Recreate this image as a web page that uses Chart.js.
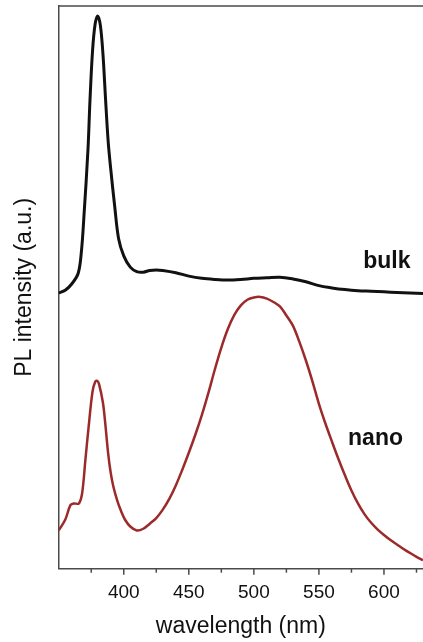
<!DOCTYPE html>
<html>
<head>
<meta charset="utf-8">
<script src="https://cdn.jsdelivr.net/npm/chart.js@4.4.1/dist/chart.umd.min.js"></script>
<style>
  html, body { margin: 0; padding: 0; background: #fff; }
  #wrap { width: 423px; height: 642px; position: relative; }
</style>
</head>
<body>
<div id="wrap"><canvas id="plChart"></canvas></div>
<script>
// values (wavelength in nm, intensity in arbitrary units 0-100)
const bulkWavelength = [350, 355, 360, 365, 367.5, 369.5, 372.5, 374, 376, 378, 380, 382, 384, 386, 388, 390, 393, 396, 400, 405, 410, 415, 420, 425, 430, 440, 450, 460, 470, 480, 490, 500, 510, 520, 530, 540, 550, 560, 570, 580, 590, 600, 610, 620, 630];
const bulkIntensity = [49.0, 49.5, 50.6, 52.5, 56.5, 63, 74.5, 83, 92, 96.8, 98.2, 96.6, 91.5, 83.5, 76, 71, 64.5, 58.7, 55.6, 53.6, 52.8, 52.7, 53.0, 53.1, 53.0, 52.6, 52.0, 51.6, 51.4, 51.3, 51.4, 51.6, 51.7, 51.8, 51.5, 51.0, 50.3, 49.9, 49.6, 49.4, 49.3, 49.2, 49.1, 49.0, 48.9];

const nanoWavelength = [350, 355, 359, 361.5, 365.5, 368, 370.5, 373, 376, 378, 379.6, 381, 384, 386, 388, 390, 392, 395, 398, 401, 405, 410, 415, 420, 425, 430, 435, 440, 445, 450, 455, 460, 465, 470, 475, 480, 485, 490, 495, 500, 505, 510, 515, 520, 525, 530, 535, 540, 545, 550, 555, 560, 565, 570, 575, 580, 585, 590, 595, 600, 605, 610, 615, 620, 625, 630];
const nanoIntensity = [6.8, 8.7, 11.3, 11.6, 11.6, 13.4, 19.3, 25.2, 31.5, 33.2, 33.4, 32.8, 29.5, 25.3, 20.5, 17.0, 14.6, 12.1, 10.2, 8.7, 7.5, 6.8, 7.1, 8.0, 9.0, 10.5, 12.4, 14.8, 17.6, 20.6, 23.8, 27.3, 31.2, 35.4, 39.3, 42.6, 45.1, 46.8, 47.8, 48.2, 48.3, 48.0, 47.4, 46.6, 45.0, 43.2, 40.3, 37.0, 33.3, 29.3, 25.8, 22.6, 19.5, 16.6, 13.9, 11.6, 9.7, 8.2, 7.0, 6.0, 5.1, 4.3, 3.5, 2.8, 2.1, 1.5];

const xTickLabels = [400, 450, 500, 550, 600];

// series labels placed in data coordinates
const labelText = ['bulk', 'nano'];
const labelX = [584, 572.4];
const labelY = [53.4, 22.0];

const xMin = 350, xMax = 630;
const axisColor = '#4a4a4a';
const textColor = '#111';
const fontFamily = '"Liberation Sans", Arial, sans-serif';

const extras = {
    id: 'extras',
    afterDraw(chart) {
        const { ctx, chartArea, scales } = chart;
        const xs = scales.x, ys = scales.y;
        ctx.save();
        ctx.strokeStyle = axisColor;
        ctx.lineWidth = 1.5;

        // top border of the frame
        ctx.beginPath();
        ctx.moveTo(chartArea.left, chartArea.top);
        ctx.lineTo(chartArea.right, chartArea.top);
        ctx.stroke();

        // major / minor tick marks on the x axis
        xs.ticks.forEach(t => {
            if (t.value <= xMin || t.value >= xMax) return;
            const px = xs.getPixelForValue(t.value);
            const len = t.value % 50 === 0 ? 6 : 4;
            ctx.beginPath();
            ctx.moveTo(px, chartArea.bottom);
            ctx.lineTo(px, chartArea.bottom + len);
            ctx.stroke();
        });

        // curve labels
        ctx.fillStyle = textColor;
        ctx.font = 'bold 23px ' + fontFamily;
        ctx.textBaseline = 'alphabetic';
        ctx.textAlign = 'left';
        labelText.forEach((txt, i) => {
            ctx.fillText(txt, xs.getPixelForValue(labelX[i]), ys.getPixelForValue(labelY[i]));
        });
        ctx.restore();
    }
};

const ctx = document.getElementById('plChart').getContext('2d');
new Chart(ctx, {
    type: 'line',
    data: {
        datasets: [{
            label: 'bulk',
            data: bulkWavelength.map((w, i) => ({ x: w, y: bulkIntensity[i] })),
            borderColor: '#111111',
            borderWidth: 3,
            pointRadius: 0,
            tension: 0.35,
            fill: false
        }, {
            label: 'nano',
            data: nanoWavelength.map((w, i) => ({ x: w, y: nanoIntensity[i] })),
            borderColor: '#9c2a2a',
            borderWidth: 2.5,
            pointRadius: 0,
            tension: 0.35,
            fill: false
        }]
    },
    options: {
        responsive: true,
        maintainAspectRatio: false,
        animation: false,
        layout: { padding: { top: 6, right: 0, left: 0, bottom: 0 } },
        plugins: {
            legend: { display: false },
            tooltip: { enabled: false }
        },
        scales: {
            x: {
                type: 'linear',
                min: xMin,
                max: xMax,
                afterFit: s => { s.height = 73.3; s.paddingLeft = 0; s.paddingRight = 0; },
                afterBuildTicks: s => {
                    const t = [];
                    for (let v = xMin; v <= xMax; v += 25) t.push({ value: v });
                    s.ticks = t;
                },
                grid: { display: true, drawOnChartArea: false, drawTicks: false },
                border: { display: true, color: axisColor, width: 1.5 },
                ticks: {
                    autoSkip: false,
                    maxRotation: 0,
                    padding: 13,
                    color: textColor,
                    font: { family: fontFamily, size: 19 },
                    callback: v => xTickLabels.includes(v) ? String(v) : ''
                },
                title: {
                    display: true,
                    text: 'wavelength (nm)',
                    color: textColor,
                    font: { family: fontFamily, size: 23 },
                    padding: { top: 0, bottom: 2 }
                }
            },
            y: {
                min: 0,
                max: 100,
                afterFit: s => { s.width = 58.7; s.paddingTop = 0; s.paddingBottom = 0; },
                grid: { display: false },
                border: { display: true, color: axisColor, width: 1.5 },
                ticks: { display: false },
                title: {
                    display: true,
                    text: 'PL intensity (a.u.)',
                    color: textColor,
                    font: { family: fontFamily, size: 23 },
                    padding: { top: 11, bottom: 0 }
                }
            }
        }
    },
    plugins: [extras]
});
</script>
</body>
</html>
